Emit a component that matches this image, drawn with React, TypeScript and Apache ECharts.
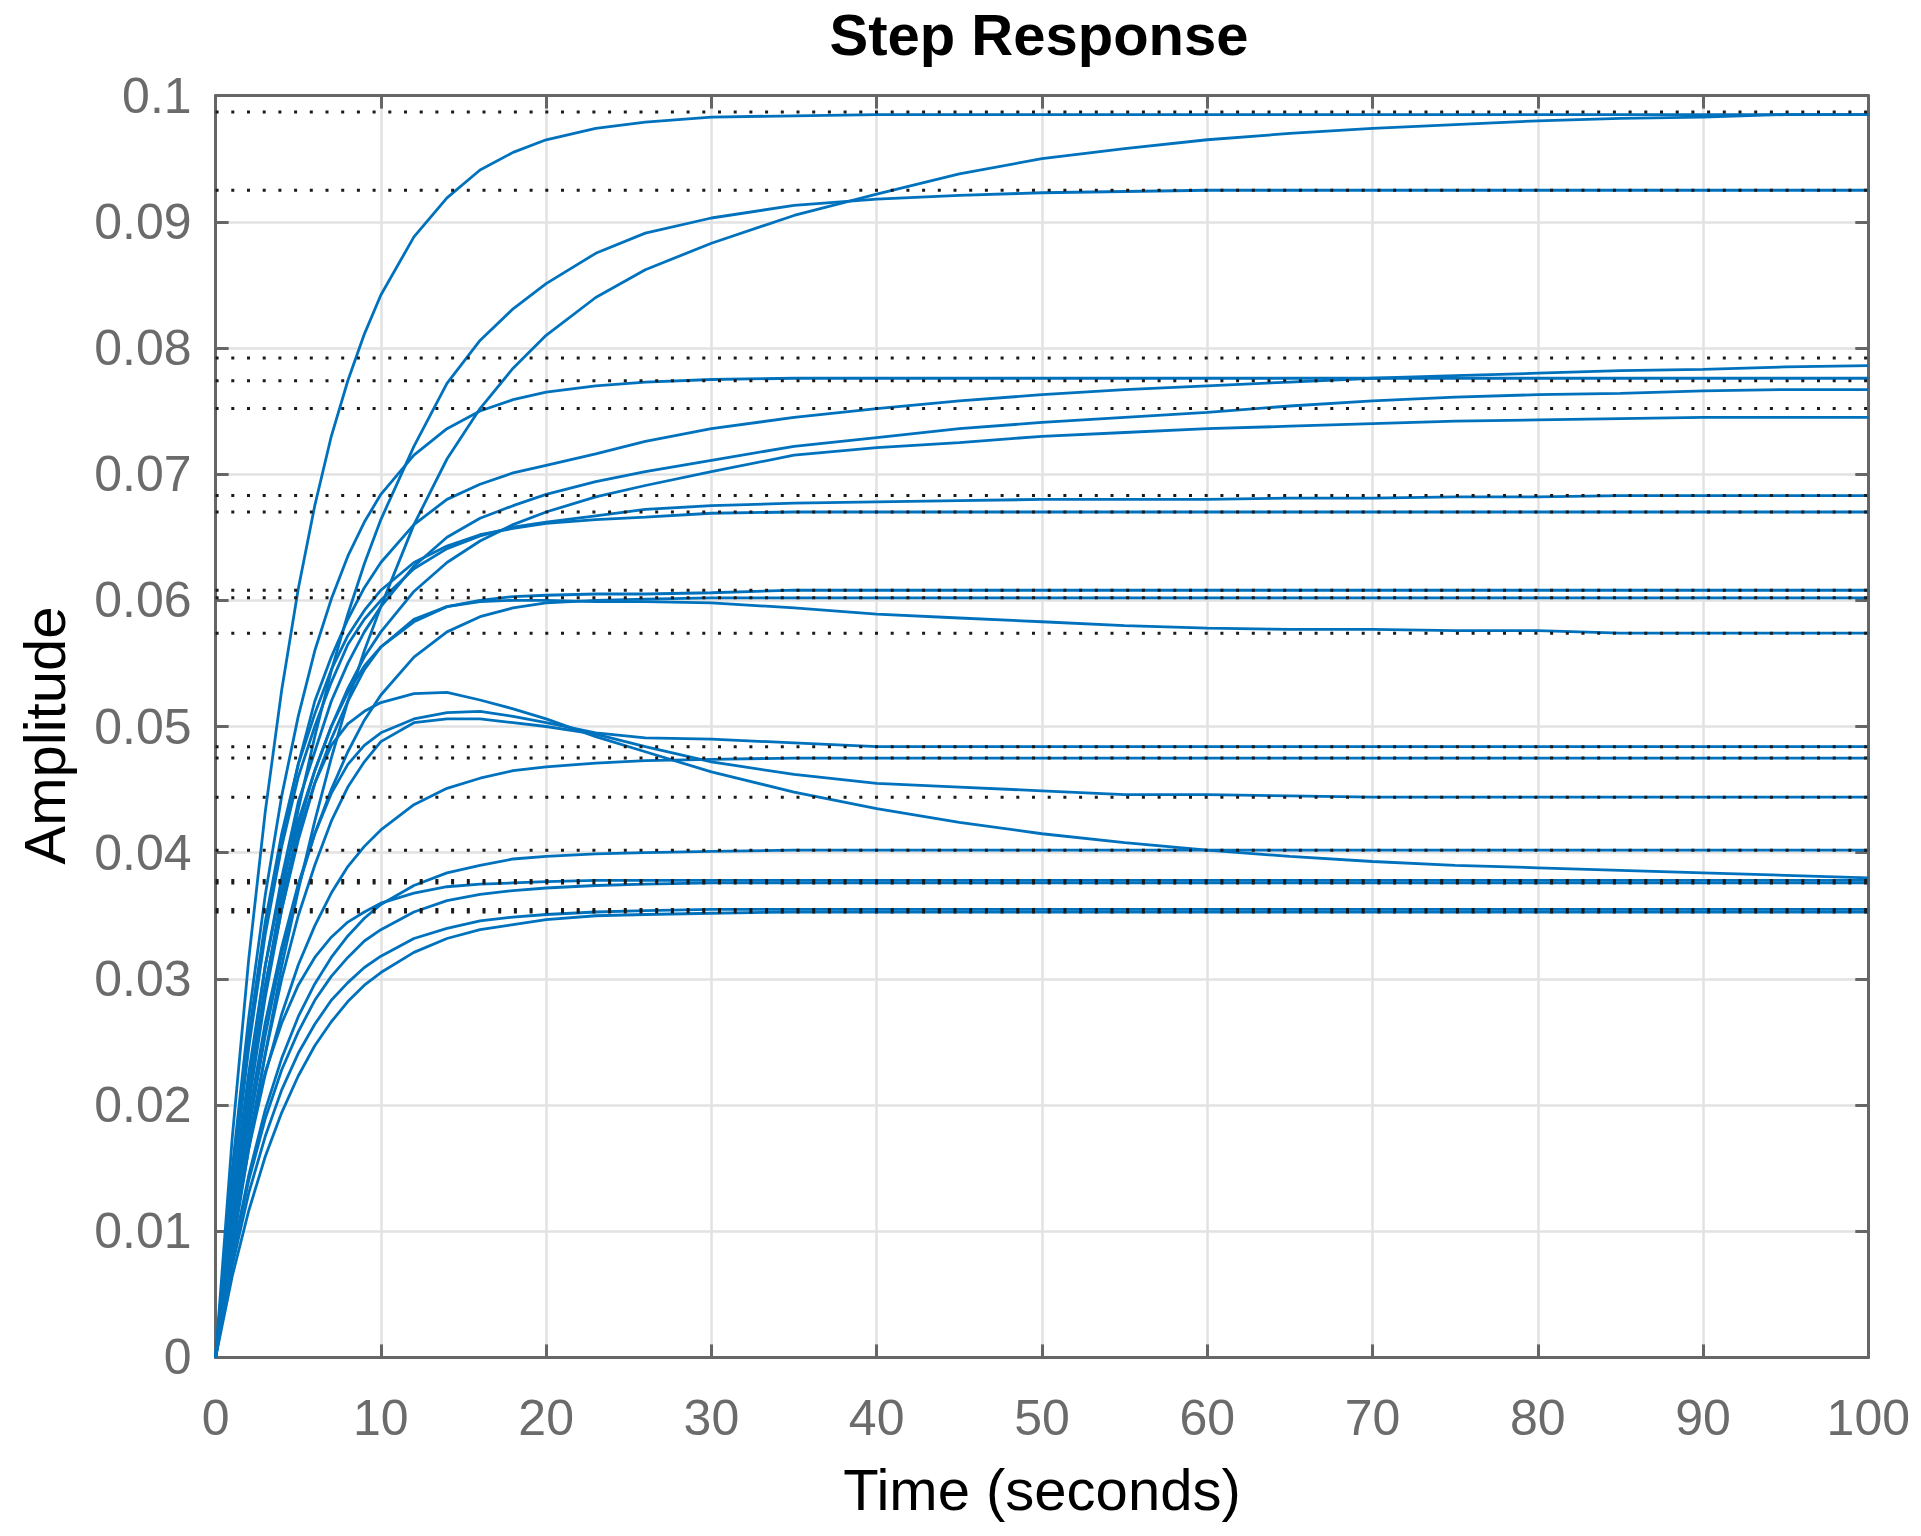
import React, { useEffect, useRef } from "react";
import * as echarts from "echarts";

// Sample times (seconds)
const time = [0, 1, 2, 3, 4, 5, 6, 7, 8, 9, 10, 12, 14, 16, 18, 20, 23, 26, 30, 35, 40, 45, 50, 55, 60, 65, 70, 75, 80, 85, 90, 95, 100];

// Step responses (amplitude at each sample time)
const respC1 = [0, 0.0173, 0.0315, 0.0432, 0.0529, 0.0609, 0.0675, 0.0730, 0.0774, 0.0811, 0.0842, 0.0888, 0.0919, 0.0941, 0.0955, 0.0965, 0.0974, 0.0979, 0.0983, 0.0984, 0.0985, 0.0985, 0.0985, 0.0985, 0.0985, 0.0985, 0.0985, 0.0985, 0.0985, 0.0985, 0.0985, 0.0985, 0.0985];
const respA = [0, 0.0110, 0.0207, 0.0292, 0.0367, 0.0434, 0.0492, 0.0544, 0.0589, 0.0629, 0.0664, 0.0722, 0.0772, 0.0806, 0.0831, 0.0851, 0.0875, 0.0891, 0.0903, 0.0913, 0.0918, 0.0921, 0.0923, 0.0924, 0.0925, 0.0925, 0.0925, 0.0925, 0.0925, 0.0925, 0.0925, 0.0925, 0.0925];
const respB = [0, 0.0085, 0.0165, 0.0240, 0.0310, 0.0370, 0.0425, 0.0475, 0.0520, 0.0560, 0.0595, 0.0660, 0.0712, 0.0752, 0.0784, 0.0810, 0.0840, 0.0862, 0.0883, 0.0905, 0.0922, 0.0938, 0.0950, 0.0958, 0.0965, 0.0970, 0.0974, 0.0977, 0.0980, 0.0982, 0.0983, 0.0985, 0.0985];
const respD1 = [0, 0.0149, 0.0269, 0.0366, 0.0445, 0.0508, 0.0560, 0.0601, 0.0635, 0.0662, 0.0684, 0.0715, 0.0736, 0.0750, 0.0759, 0.0765, 0.0770, 0.0773, 0.0775, 0.0776, 0.0776, 0.0776, 0.0776, 0.0776, 0.0776, 0.0776, 0.0776, 0.0776, 0.0776, 0.0776, 0.0776, 0.0776, 0.0776];
const respE1 = [0, 0.0135, 0.0250, 0.0340, 0.0410, 0.0470, 0.0520, 0.0555, 0.0585, 0.0610, 0.0630, 0.0660, 0.0680, 0.0692, 0.0701, 0.0707, 0.0716, 0.0726, 0.0736, 0.0745, 0.0752, 0.0758, 0.0763, 0.0767, 0.0770, 0.0773, 0.0776, 0.0778, 0.0780, 0.0782, 0.0783, 0.0785, 0.0786];
const respE2 = [0, 0.0120, 0.0220, 0.0310, 0.0380, 0.0440, 0.0480, 0.0520, 0.0550, 0.0575, 0.0595, 0.0627, 0.0650, 0.0665, 0.0675, 0.0684, 0.0694, 0.0702, 0.0711, 0.0722, 0.0729, 0.0736, 0.0741, 0.0745, 0.0749, 0.0754, 0.0758, 0.0761, 0.0763, 0.0764, 0.0766, 0.0767, 0.0767];
const respE3 = [0, 0.0115, 0.0210, 0.0295, 0.0360, 0.0420, 0.0465, 0.0500, 0.0530, 0.0555, 0.0575, 0.0607, 0.0630, 0.0647, 0.0660, 0.0670, 0.0682, 0.0691, 0.0702, 0.0715, 0.0721, 0.0725, 0.0730, 0.0733, 0.0736, 0.0738, 0.0740, 0.0742, 0.0743, 0.0744, 0.0745, 0.0745, 0.0745];
const respF1 = [0, 0.0135, 0.0245, 0.0335, 0.0405, 0.0460, 0.0500, 0.0535, 0.0565, 0.0585, 0.0600, 0.0625, 0.0641, 0.0651, 0.0658, 0.0662, 0.0667, 0.0672, 0.0675, 0.0677, 0.0678, 0.0679, 0.0680, 0.0680, 0.0680, 0.0681, 0.0681, 0.0682, 0.0682, 0.0683, 0.0683, 0.0683, 0.0683];
const respF2 = [0, 0.0140, 0.0255, 0.0345, 0.0415, 0.0470, 0.0510, 0.0545, 0.0572, 0.0592, 0.0608, 0.0630, 0.0643, 0.0652, 0.0657, 0.0661, 0.0664, 0.0666, 0.0669, 0.0670, 0.0670, 0.0670, 0.0670, 0.0670, 0.0670, 0.0670, 0.0670, 0.0670, 0.0670, 0.0670, 0.0670, 0.0670, 0.0670];
const respG1 = [0, 0.0125, 0.0225, 0.0310, 0.0375, 0.0425, 0.0465, 0.0500, 0.0527, 0.0548, 0.0563, 0.0583, 0.0595, 0.0600, 0.0603, 0.0604, 0.0605, 0.0605, 0.0606, 0.0608, 0.0608, 0.0608, 0.0608, 0.0608, 0.0608, 0.0608, 0.0608, 0.0608, 0.0608, 0.0608, 0.0608, 0.0608, 0.0608];
const respG2 = [0, 0.0105, 0.0190, 0.0265, 0.0325, 0.0375, 0.0415, 0.0450, 0.0480, 0.0505, 0.0525, 0.0555, 0.0575, 0.0587, 0.0594, 0.0598, 0.0600, 0.0601, 0.0602, 0.0602, 0.0602, 0.0602, 0.0602, 0.0602, 0.0602, 0.0602, 0.0602, 0.0602, 0.0602, 0.0602, 0.0602, 0.0602, 0.0602];
const respH = [0, 0.0115, 0.0210, 0.0290, 0.0355, 0.0410, 0.0455, 0.0490, 0.0520, 0.0545, 0.0563, 0.0585, 0.0595, 0.0599, 0.0600, 0.0600, 0.0599, 0.0599, 0.0598, 0.0594, 0.0589, 0.0586, 0.0583, 0.0580, 0.0578, 0.0577, 0.0577, 0.0576, 0.0576, 0.0574, 0.0574, 0.0574, 0.0574];
const respI1 = [0, 0.0095, 0.0180, 0.0255, 0.0320, 0.0373, 0.0415, 0.0447, 0.0470, 0.0485, 0.0495, 0.0506, 0.0511, 0.0512, 0.0508, 0.0503, 0.0495, 0.0491, 0.0490, 0.0487, 0.0484, 0.0484, 0.0484, 0.0484, 0.0484, 0.0484, 0.0484, 0.0484, 0.0484, 0.0484, 0.0484, 0.0484, 0.0484];
const respI2 = [0, 0.0091, 0.0165, 0.0224, 0.0272, 0.0311, 0.0342, 0.0368, 0.0389, 0.0405, 0.0418, 0.0438, 0.0451, 0.0459, 0.0465, 0.0468, 0.0471, 0.0473, 0.0474, 0.0475, 0.0475, 0.0475, 0.0475, 0.0475, 0.0475, 0.0475, 0.0475, 0.0475, 0.0475, 0.0475, 0.0475, 0.0475, 0.0475];
const respJ = [0, 0.0090, 0.0170, 0.0240, 0.0300, 0.0350, 0.0390, 0.0425, 0.0452, 0.0472, 0.0488, 0.0503, 0.0506, 0.0506, 0.0503, 0.0500, 0.0494, 0.0484, 0.0472, 0.0462, 0.0455, 0.0452, 0.0449, 0.0446, 0.0446, 0.0445, 0.0444, 0.0444, 0.0444, 0.0444, 0.0444, 0.0444, 0.0444];
const respK = [0, 0.0105, 0.0200, 0.0285, 0.0355, 0.0415, 0.0455, 0.0485, 0.0502, 0.0512, 0.0519, 0.0526, 0.0527, 0.0521, 0.0514, 0.0506, 0.0492, 0.0480, 0.0464, 0.0448, 0.0435, 0.0424, 0.0415, 0.0408, 0.0402, 0.0397, 0.0393, 0.0390, 0.0388, 0.0386, 0.0384, 0.0382, 0.0380];
const respL1 = [0, 0.0080, 0.0144, 0.0196, 0.0237, 0.0270, 0.0296, 0.0317, 0.0334, 0.0348, 0.0359, 0.0374, 0.0384, 0.0390, 0.0395, 0.0397, 0.0399, 0.0400, 0.0401, 0.0402, 0.0402, 0.0402, 0.0402, 0.0402, 0.0402, 0.0402, 0.0402, 0.0402, 0.0402, 0.0402, 0.0402, 0.0402, 0.0402];
const respM1 = [0, 0.0099, 0.0172, 0.0226, 0.0265, 0.0295, 0.0317, 0.0333, 0.0345, 0.0353, 0.0360, 0.0368, 0.0373, 0.0375, 0.0376, 0.0377, 0.0378, 0.0378, 0.0378, 0.0378, 0.0378, 0.0378, 0.0378, 0.0378, 0.0378, 0.0378, 0.0378, 0.0378, 0.0378, 0.0378, 0.0378, 0.0378, 0.0378];
const respM2 = [0, 0.0078, 0.0140, 0.0189, 0.0228, 0.0258, 0.0283, 0.0302, 0.0317, 0.0330, 0.0339, 0.0353, 0.0362, 0.0367, 0.0370, 0.0372, 0.0374, 0.0375, 0.0376, 0.0376, 0.0376, 0.0376, 0.0376, 0.0376, 0.0376, 0.0376, 0.0376, 0.0376, 0.0376, 0.0376, 0.0376, 0.0376, 0.0376];
const respN1 = [0, 0.0072, 0.0130, 0.0175, 0.0212, 0.0241, 0.0264, 0.0283, 0.0297, 0.0309, 0.0318, 0.0332, 0.0340, 0.0346, 0.0349, 0.0351, 0.0353, 0.0354, 0.0355, 0.0355, 0.0355, 0.0355, 0.0355, 0.0355, 0.0355, 0.0355, 0.0355, 0.0355, 0.0355, 0.0355, 0.0355, 0.0355, 0.0355];
const respN2 = [0, 0.0064, 0.0116, 0.0159, 0.0194, 0.0223, 0.0247, 0.0266, 0.0282, 0.0295, 0.0305, 0.0321, 0.0332, 0.0339, 0.0343, 0.0347, 0.0350, 0.0351, 0.0352, 0.0353, 0.0353, 0.0353, 0.0353, 0.0353, 0.0353, 0.0353, 0.0353, 0.0353, 0.0353, 0.0353, 0.0353, 0.0353, 0.0353];

// Steady-state (final value) dotted lines
const steadyStateLevels = [0.0987, 0.0925, 0.0792, 0.0774, 0.0752, 0.0683, 0.0670, 0.0608, 0.0602, 0.0574, 0.0484, 0.0475, 0.0444, 0.0402, 0.0378, 0.0376, 0.0355, 0.0353];

const titleText = "Step Response";
const xAxisName = "Time (seconds)";
const yAxisName = "Amplitude";

const FONT = "'Liberation Sans', Arial, Helvetica, sans-serif";

export default function App() {
  const ref = useRef<HTMLDivElement>(null);

  useEffect(() => {
    document.body.style.margin = "0";
    if (!ref.current) return;
    const chart = echarts.init(ref.current, null, { renderer: "svg" });
    const responses = [respC1, respA, respB, respD1, respE1, respE2, respE3, respF1, respF2, respG1, respG2, respH, respI1, respI2, respJ, respK, respL1, respM1, respM2, respN1, respN2];
    const blue = "#0072BD";
    const frame = "#666666";

    const curveSeries = responses.map((arr, k) => ({
      name: "response" + k,
      type: "line",
      data: time.map((t, i) => [t, arr[i]]),
      symbol: "none",
      silent: true,
      z: 2,
      lineStyle: { color: blue, width: 2.8 },
      itemStyle: { color: blue },
    }));

    const dottedSeries = steadyStateLevels.map((v, k) => ({
      name: "steady" + k,
      type: "line",
      data: [[0, v], [100, v]],
      symbol: "none",
      silent: true,
      z: 3,
      lineStyle: { color: "#1a1a1a", width: 3, type: [3, 12.7] },
      itemStyle: { color: "#1a1a1a" },
    }));

    const hiddenAxisCommon = {
      type: "value",
      min: 0,
      axisLabel: { show: false },
      splitLine: { show: false },
      axisLine: { show: true, onZero: false, lineStyle: { color: frame, width: 3 } },
      axisTick: { show: true, inside: true, length: 13, lineStyle: { color: frame, width: 3 } },
    };

    chart.setOption({
      animation: false,
      backgroundColor: "#ffffff",
      title: {
        text: titleText,
        left: 1039,
        top: 5,
        padding: 0,
        textAlign: "center",
        textStyle: { fontFamily: FONT, fontSize: 58, fontWeight: "bold", color: "#000" },
      },
      grid: { left: 215.6, right: 52.7, top: 95.6, bottom: 178.6, show: false },
      xAxis: [
        {
          type: "value",
          min: 0,
          max: 100,
          interval: 10,
          name: xAxisName,
          nameLocation: "middle",
          nameGap: 103,
          nameTextStyle: { fontFamily: FONT, fontSize: 58, color: "#000" },
          axisLine: { show: true, onZero: false, lineStyle: { color: frame, width: 3 } },
          axisTick: { show: true, inside: true, length: 13, lineStyle: { color: frame, width: 3 } },
          axisLabel: { margin: 36, fontFamily: FONT, fontSize: 50, color: "#6b6b6b" },
          splitLine: { show: true, lineStyle: { color: "#e2e2e2", width: 2.5 } },
        },
        { ...hiddenAxisCommon, max: 100, interval: 10, position: "top" },
      ],
      yAxis: [
        {
          type: "value",
          min: 0,
          max: 0.1,
          interval: 0.01,
          name: yAxisName,
          nameLocation: "middle",
          nameGap: 142,
          nameTextStyle: { fontFamily: FONT, fontSize: 58, color: "#000", padding: [0, 18, 0, 0] },
          axisLine: { show: true, onZero: false, lineStyle: { color: frame, width: 3 } },
          axisTick: { show: true, inside: true, length: 13, lineStyle: { color: frame, width: 3 } },
          axisLabel: {
            margin: 24,
            fontFamily: FONT,
            fontSize: 50,
            color: "#6b6b6b",
            formatter: (v: number) => String(parseFloat(v.toFixed(2))),
          },
          splitLine: { show: true, lineStyle: { color: "#e2e2e2", width: 2.5 } },
        },
        { ...hiddenAxisCommon, max: 0.1, interval: 0.01, position: "right" },
      ],
      series: [...curveSeries, ...dottedSeries],
    });

    return () => {
      chart.dispose();
    };
  }, []);

  return <div ref={ref} style={{ width: 1921, height: 1536 }} />;
}
